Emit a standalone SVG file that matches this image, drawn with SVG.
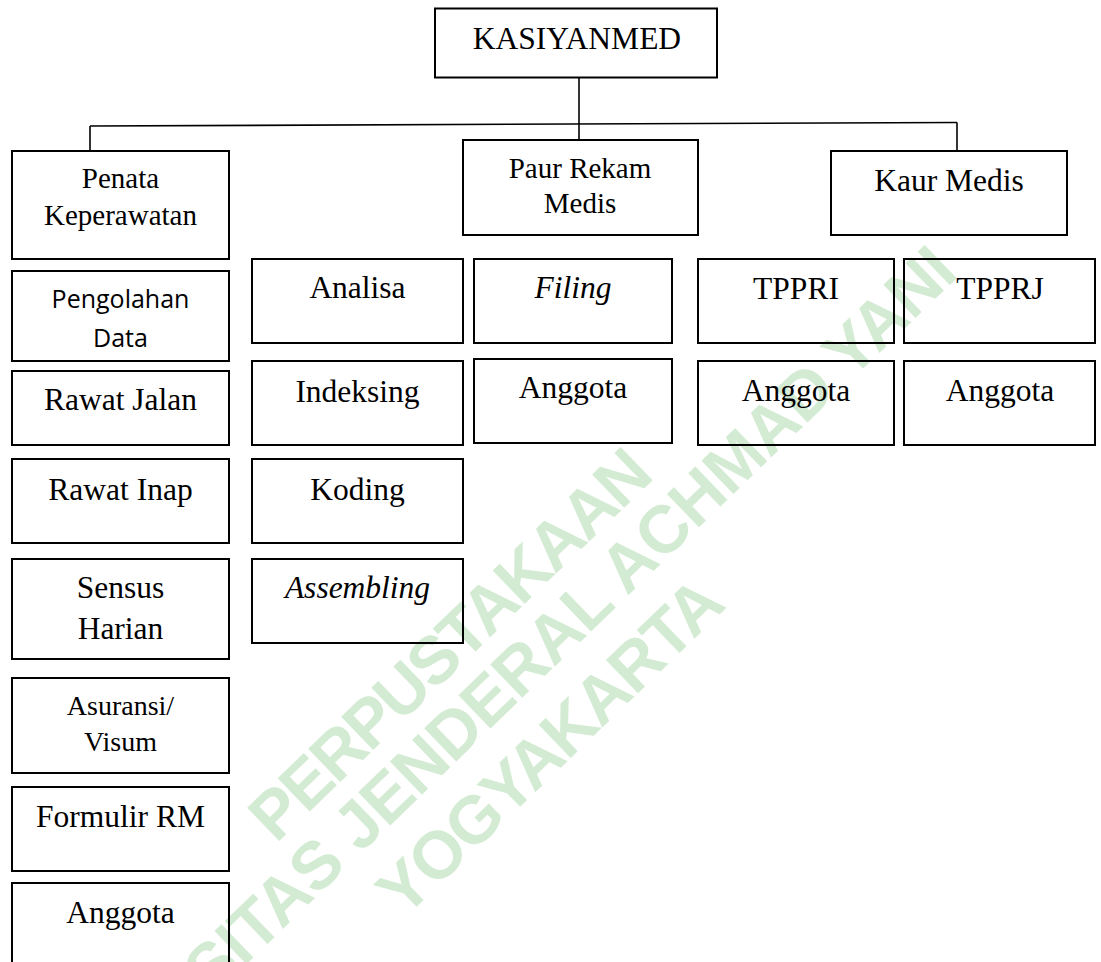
<svg xmlns="http://www.w3.org/2000/svg" width="1101" height="962" viewBox="0 0 1101 962">
<defs>
<style>
.box{fill:none;stroke:#000;stroke-width:2}
.ln{fill:none;stroke:#000;stroke-width:1.6}
.t{font-family:"Liberation Serif","Times New Roman",serif;font-size:31.5px;fill:#000;text-anchor:middle}
.s{font-size:29px}
.a{font-size:28px}
.i{font-style:italic}
.sans{font-family:"Open Sans","Liberation Sans",sans-serif;font-size:25px;fill:#000;text-anchor:middle}
.wm{font-family:"Liberation Sans",Arial,sans-serif;font-weight:bold;font-size:67px;fill:#d3ebd3}
</style>
</defs>
<rect width="1101" height="962" fill="#fff"/>
<g id="watermark">
<text class="wm" transform="translate(276,844) rotate(-44)" textLength="528" lengthAdjust="spacing">PERPUSTAKAAN</text>
<text class="wm" text-anchor="end" transform="translate(960,275) rotate(-44)" textLength="1290" lengthAdjust="spacing">UNIVERSITAS JENDERAL ACHMAD YANI</text>
<text class="wm" transform="translate(404,919) rotate(-44)" textLength="450" lengthAdjust="spacing">YOGYAKARTA</text>
</g>
<g id="connectors">
<line class="ln" x1="579" y1="77" x2="579" y2="140"/>
<line class="ln" x1="90" y1="126" x2="957" y2="122.5"/>
<line class="ln" x1="90" y1="126" x2="90" y2="151"/>
<line class="ln" x1="957" y1="122.5" x2="957" y2="151"/>
</g>
<g id="kasiyanmed"><rect class="box" x="435" y="8.5" width="282" height="69"/><text class="t" x="577" y="49">KASIYANMED</text></g>
<g id="paur"><rect class="box" x="463" y="140" width="235" height="95"/><text class="t s" x="580" y="178">Paur Rekam</text><text class="t s" x="580" y="213">Medis</text></g>
<g id="kaur"><rect class="box" x="831" y="151" width="236" height="84"/><text class="t" x="949" y="191">Kaur Medis</text></g>
<g id="penata"><rect class="box" x="12" y="151" width="217" height="108"/><text class="t s" x="120.5" y="188">Penata</text><text class="t s" x="120.5" y="225">Keperawatan</text></g>
<g id="pengolahan"><rect class="box" x="12" y="271" width="217" height="90"/><text class="sans" x="120.5" y="308">Pengolahan</text><text class="sans" x="120.5" y="347">Data</text></g>
<g id="rawat-jalan"><rect class="box" x="12" y="371" width="217" height="74"/><text class="t" x="120.5" y="410">Rawat Jalan</text></g>
<g id="rawat-inap"><rect class="box" x="12" y="459" width="217" height="84"/><text class="t" x="120.5" y="500">Rawat Inap</text></g>
<g id="sensus"><rect class="box" x="12" y="559" width="217" height="100"/><text class="t" x="120.5" y="598">Sensus</text><text class="t" x="120.5" y="639">Harian</text></g>
<g id="asuransi"><rect class="box" x="12" y="678" width="217" height="95"/><text class="t a" x="120.5" y="715">Asuransi/</text><text class="t a" x="120.5" y="751">Visum</text></g>
<g id="formulir"><rect class="box" x="12" y="787" width="217" height="84"/><text class="t" x="120.5" y="827">Formulir RM</text></g>
<g id="anggota-1"><rect class="box" x="12" y="883" width="217" height="100"/><text class="t" x="120.5" y="923">Anggota</text></g>
<g id="analisa"><rect class="box" x="252" y="259" width="211" height="84"/><text class="t" x="357.5" y="298">Analisa</text></g>
<g id="indeksing"><rect class="box" x="252" y="361" width="211" height="84"/><text class="t" x="357.5" y="402">Indeksing</text></g>
<g id="koding"><rect class="box" x="252" y="459" width="211" height="84"/><text class="t" x="357.5" y="500">Koding</text></g>
<g id="assembling"><rect class="box" x="252" y="559" width="211" height="84"/><text class="t i" x="357.5" y="598">Assembling</text></g>
<g id="filing"><rect class="box" x="474" y="259" width="198" height="84"/><text class="t i" x="573" y="298">Filing</text></g>
<g id="anggota-2"><rect class="box" x="474" y="359" width="198" height="84"/><text class="t" x="573" y="398">Anggota</text></g>
<g id="tppri"><rect class="box" x="698" y="259" width="196" height="84"/><text class="t" x="796" y="299">TPPRI</text></g>
<g id="tpprj"><rect class="box" x="904" y="259" width="191" height="84"/><text class="t" x="1000" y="299">TPPRJ</text></g>
<g id="anggota-3"><rect class="box" x="698" y="361" width="196" height="84"/><text class="t" x="796" y="401">Anggota</text></g>
<g id="anggota-4"><rect class="box" x="904" y="361" width="191" height="84"/><text class="t" x="1000" y="401">Anggota</text></g>
</svg>
